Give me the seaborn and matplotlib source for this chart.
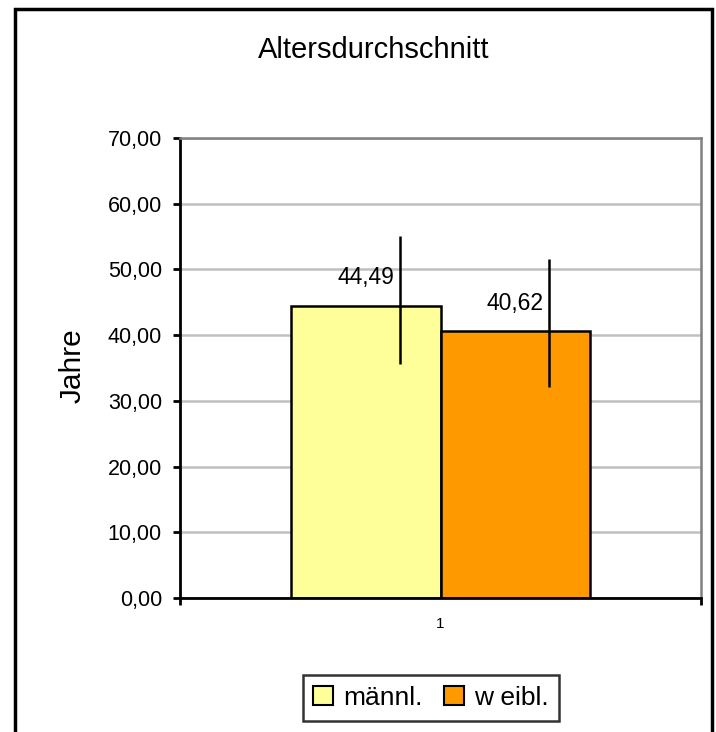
import matplotlib
matplotlib.use("Agg")
import matplotlib.pyplot as plt
import seaborn as sns
import pandas as pd
from matplotlib.patches import Rectangle, Patch

# ---- data ----
categories = ["1"]
groups = ["männl.", "w eibl."]
means = [44.49, 40.62]
err_low = [35.6, 32.1]
err_high = [55.1, 51.6]
value_labels = ["44,49", "40,62"]
yticks = [0, 10, 20, 30, 40, 50, 60, 70]
ytick_labels = ["0,00", "10,00", "20,00", "30,00", "40,00", "50,00", "60,00", "70,00"]
colors = ["#FFFF99", "#FF9900"]

sns.set_theme(style="white")
plt.rcParams["font.family"] = ["Liberation Sans", "DejaVu Sans"]
plt.rcParams["text.color"] = "black"
plt.rcParams["axes.labelcolor"] = "black"
plt.rcParams["xtick.color"] = "black"
plt.rcParams["ytick.color"] = "black"

df = pd.DataFrame({"cat": categories * len(groups), "grp": groups, "val": means})

fig = plt.figure(figsize=(7.16, 7.32), dpi=100)
ax = fig.add_axes([180 / 716, 1 - 598 / 732, 521 / 716, 460 / 732])

sns.barplot(data=df, x="cat", y="val", hue="grp", hue_order=groups,
            palette=colors, width=0.572, edgecolor="black", linewidth=1.8,
            errorbar=None, saturation=1, ax=ax, legend=False)

ax.set_xlim(-0.5, 0.5)
ax.set_ylim(0, 70)
ax.set_yticks(yticks)
ax.set_yticklabels(ytick_labels)
ax.yaxis.grid(True, color="#C0C0C0", linewidth=1.8)
ax.set_axisbelow(True)
ax.set_xlabel("")
ax.set_ylabel("")

# bars in order
bars = [p for p in ax.patches if p.get_height() > 0]
bars.sort(key=lambda p: p.get_x())
for p, lo, hi, lab in zip(bars, err_low, err_high, value_labels):
    cx = p.get_x() + p.get_width() / 2
    ex = cx + 0.225 * p.get_width()
    ax.vlines(ex, lo, hi, color="black", linewidth=1.8, zorder=5)
    ax.annotate(lab, (cx, p.get_height()), xytext=(0, 28), textcoords="offset pixels",
                ha="center", va="center", fontsize=16.5, color="black")

# spines
for s in ["left", "bottom"]:
    ax.spines[s].set_color("black")
    ax.spines[s].set_linewidth(2.0)
for s in ["top", "right"]:
    ax.spines[s].set_visible(True)
    ax.spines[s].set_color("#808080")
    ax.spines[s].set_linewidth(1.8)

ax.tick_params(axis="y", which="major", direction="out", length=5, width=2,
               color="black", left=True, labelsize=15.5, pad=8, labelcolor="black")
ax.set_xticks([0])
ax.set_xticklabels(["1"])
ax.tick_params(axis="x", which="major", length=0, labelsize=11, pad=14, labelcolor="black")
ax.set_xticks([-0.5, 0.5], minor=True)
ax.tick_params(axis="x", which="minor", direction="out", length=5, width=2,
               color="black", bottom=True)

# title and y label
fig.text(0.5217, 0.932, "Altersdurchschnitt", ha="center", va="center",
         fontsize=21, color="black")
fig.text(0.102, 0.5, "Jahre", ha="center", va="center", rotation=90,
         fontsize=21.5, color="black")

# legend
handles = [Patch(facecolor=c, edgecolor="black", linewidth=1.5) for c in colors]
leg = fig.legend(handles, groups, loc="center", bbox_to_anchor=(0.602, 0.0464),
                 ncol=2, frameon=True, fancybox=False, fontsize=19,
                 handlelength=0.75, handleheight=0.75, handletextpad=0.4,
                 columnspacing=0.8, borderpad=0.4)
leg.get_frame().set_edgecolor("black")
leg.get_frame().set_linewidth(1.8)
for t in leg.get_texts():
    t.set_color("black")

# figure border (bottom edge cut off)
fig.patches.append(Rectangle((15 / 716, -0.05), (712 - 15) / 716, 1.05 - 9 / 732,
                             transform=fig.transFigure, fill=False,
                             edgecolor="black", linewidth=2.5))

fig.savefig("out.png", dpi=100)
